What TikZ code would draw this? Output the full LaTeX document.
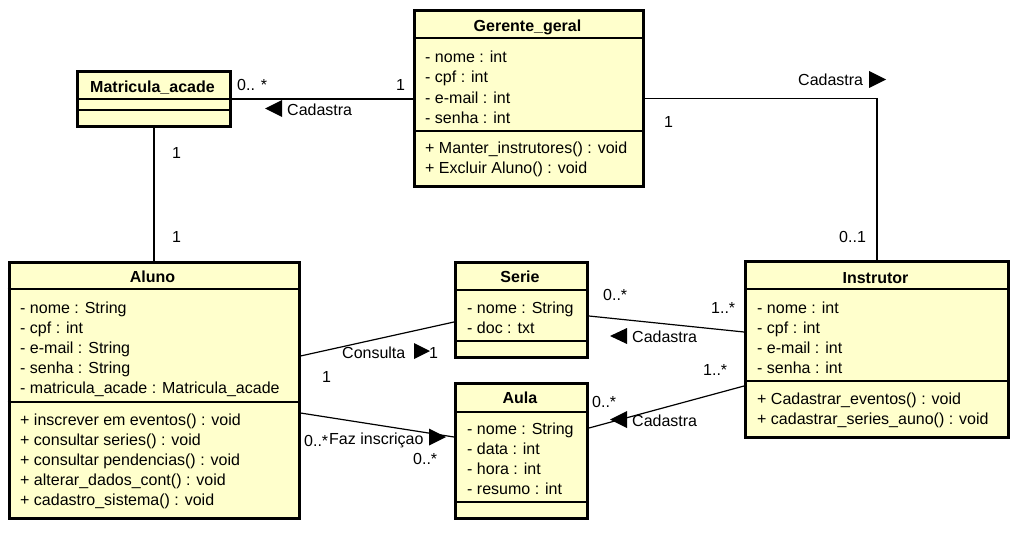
\documentclass[tikz,border=0pt]{standalone}
\usepackage{fontspec}
\setmainfont{Liberation Sans}
\usetikzlibrary{calc}
\definecolor{classfill}{RGB}{255,255,204}
\newcommand\classlines[4]{%
  \foreach \t [count=\i] in {#4} {\node[txt] (#1\i) at (#2,{#3+20*\i-20}) {\t};}}
\begin{document}
\begin{tikzpicture}[x=1pt,y=-1pt,
  classbox/.style={draw=black, line width=3pt, fill=classfill, anchor=north west, inner sep=0},
  sep/.style={line width=1.1pt},
  conn/.style={line width=1.2pt},
  txt/.style={anchor=base west, inner sep=0, font=\fontsize{16}{18}\selectfont},
  ttl/.style={anchor=base, inner sep=0, font=\fontsize{16}{18}\selectfont\bfseries},
  tri/.style={fill=black}
]
\useasboundingbox (0,0) rectangle (1015,543);

% ---------- classes ----------
\node[classbox, minimum width=153, minimum height=55] (mat) at (76,70) {};
\draw[sep] (76,99) -- (229,99) (76,110) -- (229,110);
\node[ttl] (matT) at (152.5,92.5) {Matricula\_acade};

\node[classbox, minimum width=229, minimum height=176] (ger) at (413,9) {};
\draw[sep] (413,38) -- (642,38) (413,131) -- (642,131);
\node[ttl] (gerT) at (527.5,32) {Gerente\_geral};
\classlines{gerA}{425}{63}{{- nome : int},{- cpf : int},{- e-mail : int},{- senha : int}}
\classlines{gerM}{425}{153}{{+ Manter\_instrutores() : void},{+ Excluir Aluno() : void}}

\node[classbox, minimum width=290, minimum height=255.5] (alu) at (7.5,261) {};
\draw[sep] (7.5,289) -- (297.5,289) (7.5,402) -- (297.5,402);
\node[ttl] (aluT) at (152.5,282) {Aluno};
\classlines{aluA}{20}{313}{{- nome : String},{- cpf : int},{- e-mail : String},{- senha : String},{- matricula\_acade : Matricula\_acade}}
\classlines{aluM}{20}{425}{{+ inscrever em eventos() : void},{+ consultar series() : void},{+ consultar pendencias() : void},{+ alterar\_dados\_cont() : void},{+ cadastro\_sistema() : void}}

\node[classbox, minimum width=132, minimum height=95] (ser) at (454,261) {};
\draw[sep] (454,290) -- (586,290) (454,341) -- (586,341);
\node[ttl] (serT) at (520,282) {Serie};
\classlines{serA}{467}{313}{{- nome : String},{- doc : txt}}

\node[classbox, minimum width=132, minimum height=134.5] (aula) at (454,382) {};
\draw[sep] (454,412) -- (586,412) (454,502) -- (586,502);
\node[ttl] (aulaT) at (520,403) {Aula};
\classlines{aulaA}{467}{434}{{- nome : String},{- data : int},{- hora : int},{- resumo : int}}

\node[classbox, minimum width=263, minimum height=176] (ins) at (744,260) {};
\draw[sep] (744,289) -- (1007,289) (744,381) -- (1007,381);
\node[ttl] (insT) at (875.5,283) {Instrutor};
\classlines{insA}{757}{313}{{- nome : int},{- cpf : int},{- e-mail : int},{- senha : int}}
\classlines{insM}{757}{404}{{+ Cadastrar\_eventos() : void},{+ cadastrar\_series\_auno() : void}}

% ---------- connectors ----------
% Matricula -- Gerente
\draw[conn] (mat.east) -- (mat.east -| ger.west);
\node[txt] (l1a) at (237,90.5) {0.. *};
\node[txt] (l1b) at (396,90.5) {1};
\fill[tri] (265,108.5) -- (282,100) -- (282,117) -- cycle;
\node[txt] (l1c) at (287,115.5) {Cadastra};

% Gerente -- Instrutor
\draw[conn] (ger.east) -| (ins.north);
\node[txt] (l2a) at (798,85.5) {Cadastra};
\fill[tri] (886,79.5) -- (869,71) -- (869,88) -- cycle;
\node[txt] (l2b) at (664,127.5) {1};
\node[txt] (l2c) at (839,242.5) {0..1};

% Matricula -- Aluno
\draw[conn] (mat.south) -- (alu.north);
\node[txt] (l3a) at (172,158) {1};
\node[txt] (l3b) at (172,242.5) {1};

% Aluno -- Serie
\draw[conn] ($(alu.north east)+(0,95)$) -- ($(ser.north west)+(0,61)$);
\node[txt] (l4a) at (342,358.5) {Consulta};
\fill[tri] (430,351) -- (414,343) -- (414,359) -- cycle;
\node[txt] (l4b) at (429,358.5) {1};
\node[txt] (l4c) at (322,382.5) {1};

% Aluno -- Aula
\draw[conn] ($(alu.north east)+(0,152)$) -- ($(aula.north west)+(0,55)$);
\node[txt] (l5a) at (329,444.5) {Faz inscriçao};
\fill[tri] (446,437) -- (429,428.5) -- (429,445.5) -- cycle;
\node[txt] (l5b) at (304,446) {0..*};
\node[txt] (l5c) at (413,464.5) {0..*};

% Serie -- Instrutor
\draw[conn] ($(ser.north east)+(0,55)$) -- ($(ins.north west)+(0,72)$);
\node[txt] (l6a) at (603,300) {0..*};
\node[txt] (l6b) at (711,313) {1..*};
\fill[tri] (610,336) -- (627,328) -- (627,344) -- cycle;
\node[txt] (l6c) at (632,342.5) {Cadastra};

% Aula -- Instrutor
\draw[conn] ($(aula.north east)+(0,46)$) -- ($(ins.north west)+(0,126)$);
\node[txt] (l7a) at (592,407) {0..*};
\node[txt] (l7b) at (703,375) {1..*};
\fill[tri] (610,419.5) -- (627,411) -- (627,428) -- cycle;
\node[txt] (l7c) at (632,426.5) {Cadastra};
\end{tikzpicture}
\end{document}
